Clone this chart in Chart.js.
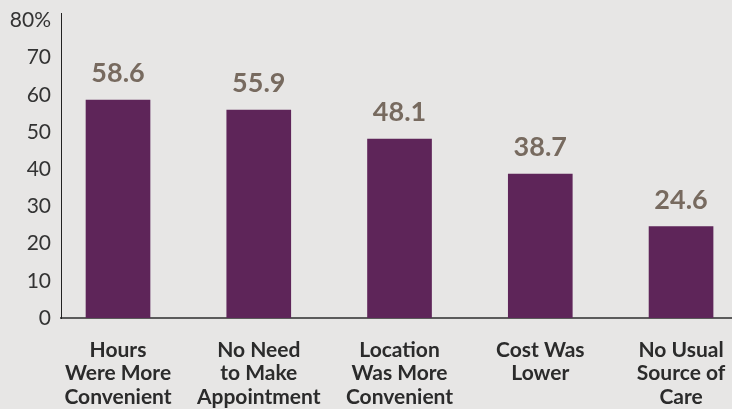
<!DOCTYPE html>
<html>
<head>
<meta charset="utf-8">
<script src="https://cdn.jsdelivr.net/npm/chart.js@4/dist/chart.umd.min.js"></script>
<style>
  html, body { margin: 0; padding: 0; background: #e7e6e5; overflow: hidden; }
  .chart-wrapper { position: relative; width: 732px; height: 409px; }
</style>
</head>
<body>
<div class="chart-wrapper">
  <canvas id="reasonsChart"></canvas>
</div>
<script>
// Chart data
const categories = [
  ["Hours", "Were More", "Convenient"],
  ["No Need", "to Make", "Appointment"],
  ["Location", "Was More", "Convenient"],
  ["Cost Was", "Lower"],
  ["No Usual", "Source of", "Care"],
];
const percentValues = [58.6, 55.9, 48.1, 38.7, 24.6];
const yTickValues = [0, 10, 20, 30, 40, 50, 60, 70, 80];

const barColor = "#5e2559";
const valueColor = "#776a5f";

// Draws the number above each bar
const valueLabels = {
  id: "valueLabels",
  afterDatasetsDraw(chart) {
    const { ctx } = chart;
    const meta = chart.getDatasetMeta(0);
    ctx.save();
    ctx.font = "bold 27px Lato";
    ctx.fillStyle = valueColor;
    ctx.textAlign = "center";
    ctx.textBaseline = "alphabetic";
    meta.data.forEach((bar, i) => {
      ctx.fillText(percentValues[i].toFixed(1), bar.x, bar.y - 18);
    });
    ctx.restore();
  },
};

const ctx = document.getElementById("reasonsChart").getContext("2d");
new Chart(ctx, {
  type: "bar",
  data: {
    datasets: [
      {
        data: percentValues.map((v, i) => ({ x: i, y: v })),
        backgroundColor: barColor,
        barThickness: 64,
      },
    ],
  },
  options: {
    responsive: true,
    maintainAspectRatio: false,
    animation: false,
    layout: { padding: { top: 13, right: 0, left: 0, bottom: 0 } },
    plugins: {
      legend: { display: false },
      tooltip: { enabled: false },
    },
    scales: {
      x: {
        type: "linear",
        offset: false,
        min: -0.405,
        max: 4.362,
        grid: { display: false, drawTicks: false },
        border: { color: "#5b5b5b", width: 2 },
        afterBuildTicks: (scale) => {
          scale.ticks = categories.map((c, i) => ({ value: i }));
        },
        afterFit: (scale) => {
          scale.height = 91;
          // labels may spill past the edges, keep the plot full width
          scale.paddingLeft = 0;
          scale.paddingRight = 0;
        },
        ticks: {
          autoSkip: false,
          maxRotation: 0,
          padding: 20,
          color: "#2b2b2b",
          font: { family: "Lato", size: 21, weight: "bold", lineHeight: 1.12 },
          callback: (value) => categories[value],
        },
      },
      y: {
        min: 0,
        max: 82,
        grid: { display: false, drawTicks: false },
        border: { color: "#222222", width: 1 },
        afterBuildTicks: (scale) => {
          scale.ticks = yTickValues.map((v) => ({ value: v }));
        },
        afterFit: (scale) => {
          scale.width = 61;
          scale.paddingTop = 0;
          scale.paddingBottom = 0;
        },
        ticks: {
          padding: 10,
          color: "#333333",
          font: { family: "Lato", size: 21, weight: "normal" },
          callback: (value) => (value === 80 ? "80%" : value),
        },
      },
    },
  },
  plugins: [valueLabels],
});
</script>
</body>
</html>
